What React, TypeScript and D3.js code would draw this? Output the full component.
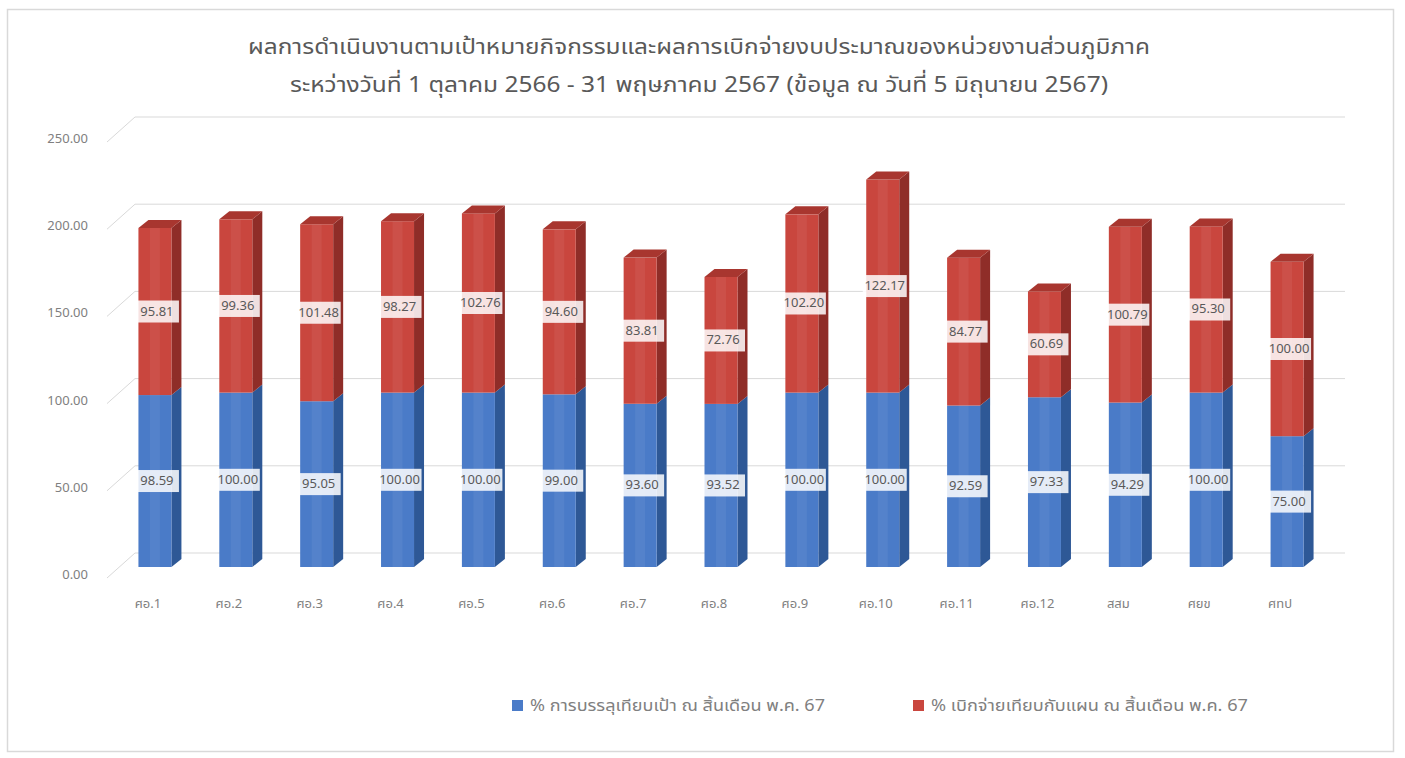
import React from "react";
import * as d3 from "d3";

const categories = ["ศอ.1","ศอ.2","ศอ.3","ศอ.4","ศอ.5","ศอ.6","ศอ.7","ศอ.8","ศอ.9","ศอ.10","ศอ.11","ศอ.12","สสม","ศยข","ศทป"];
const achieved = [98.59,100.00,95.05,100.00,100.00,99.00,93.60,93.52,100.00,100.00,92.59,97.33,94.29,100.00,75.00];
const disbursed = [95.81,99.36,101.48,98.27,102.76,94.60,83.81,72.76,102.20,122.17,84.77,60.69,100.79,95.30,100.00];
const yTicks = [0,50,100,150,200,250];
const titleLines = [
  "ผลการดำเนินงานตามเป้าหมายกิจกรรมและผลการเบิกจ่ายงบประมาณของหน่วยงานส่วนภูมิภาค",
  "ระหว่างวันที่ 1 ตุลาคม 2566 - 31 พฤษภาคม 2567 (ข้อมูล ณ วันที่ 5 มิถุนายน 2567)",
];
const legendLabels = [
  "% การบรรลุเทียบเป้า ณ สิ้นเดือน พ.ค. 67",
  "% เบิกจ่ายเทียบกับแผน ณ สิ้นเดือน พ.ค. 67",
];

const FONT = "Tahoma, 'Leelawadee UI', 'Noto Sans Thai', 'Noto Sans', 'DejaVu Sans', sans-serif";

export default function App() {
  const W = 1405, H = 758;
  const y = d3.scaleLinear().domain([0, 250]).range([567, 131]);
  const x = d3.scaleBand<string>().domain(categories).range([114.5, 1327.5]).padding(0);
  const bw = 33, dx = 10, dy = -8, back = 14;
  const gridX0 = 135, gridX1 = 1345;

  const colors = {
    blue: { front: "#4A7BC8", side: "#2E5896", top: "#3B69B0" },
    red: { front: "#C9463E", side: "#8F2D28", top: "#A8362F" },
  };

  const seg = (cx: number, v0: number, v1: number, c: any, key: string, drawTop: boolean) => {
    const xl = cx - bw / 2, xr = cx + bw / 2;
    const yt = y(v1), yb = y(v0);
    return (
      <g key={key}>
        <polygon points={`${xr},${yt} ${xr + dx},${yt + dy} ${xr + dx},${yb + dy} ${xr},${yb}`} fill={c.side} />
        <rect x={xl} y={yt} width={bw} height={yb - yt} fill={c.front} />
        <rect x={xl + bw * 0.35} y={yt} width={bw * 0.3} height={yb - yt} fill="#ffffff" opacity={0.06} />
        {drawTop && (
          <polygon points={`${xl},${yt} ${xl + dx},${yt + dy} ${xr + dx},${yt + dy} ${xr},${yt}`} fill={c.top} />
        )}
      </g>
    );
  };

  const label = (cx: number, cy: number, text: string, key: string) => (
    <g key={key}>
      <rect x={cx - 22} y={cy - 11} width={44} height={22} fill="#ffffff" opacity={0.85} />
      <text x={cx} y={cy} textAnchor="middle" dominantBaseline="central" fontSize={13} fill="#595959" fontFamily={FONT}>{text}</text>
    </g>
  );

  const titleWidths = [902, 818];

  return (
    <svg width={W} height={H} style={{ position: "absolute", left: 0, top: 0, background: "#fff" }}>
      <rect x={0} y={0} width={W} height={H} fill="#ffffff" />
      <rect x={7.5} y={9.5} width={1386} height={742} fill="none" stroke="#d9d9d9" strokeWidth={1.5} />
      {titleLines.map((t, i) => (
        <text key={t} x={699} y={54 + i * 38} textAnchor="middle" fontSize={22} fill="#595959" fontFamily={FONT}
          textLength={titleWidths[i]} lengthAdjust="spacingAndGlyphs">{t}</text>
      ))}
      {yTicks.map(v => (
        <g key={"g" + v}>
          <line x1={gridX0} x2={gridX1} y1={y(v) - back} y2={y(v) - back} stroke="#d9d9d9" strokeWidth={1} />
          <line x1={107} x2={gridX0} y1={y(v) + 11} y2={y(v) - back} stroke="#d9d9d9" strokeWidth={1} />
          <text x={88} y={y(v) + 8} textAnchor="end" dominantBaseline="central" fontSize={13} fill="#808080" fontFamily={FONT}>{v.toFixed(2)}</text>
        </g>
      ))}
      {categories.map((c, i) => {
        const cx = (x(c) as number) + x.bandwidth() / 2;
        const a = achieved[i], d = disbursed[i];
        return (
          <g key={c}>
            {seg(cx, 0, a, colors.blue, "b", false)}
            {seg(cx, a, a + d, colors.red, "r", true)}
          </g>
        );
      })}
      {categories.map((c, i) => {
        const cx = (x(c) as number) + x.bandwidth() / 2;
        const a = achieved[i], d = disbursed[i];
        return (
          <g key={"l" + c}>
            {label(cx + 2, y(a / 2), a.toFixed(2), "la")}
            {label(cx + 2, y(a + d / 2), d.toFixed(2), "ld")}
            <text x={cx - 7} y={604} textAnchor="middle" dominantBaseline="central" fontSize={13} fill="#808080" fontFamily={FONT}>{c}</text>
          </g>
        );
      })}
      <rect x={512} y={700} width={11} height={11} fill={colors.blue.front} />
      <text x={530} y={706} dominantBaseline="central" fontSize={16} fill="#808080" fontFamily={FONT}
        textLength={295} lengthAdjust="spacingAndGlyphs">{legendLabels[0]}</text>
      <rect x={913} y={700} width={11} height={11} fill={colors.red.front} />
      <text x={931} y={706} dominantBaseline="central" fontSize={16} fill="#808080" fontFamily={FONT}
        textLength={317} lengthAdjust="spacingAndGlyphs">{legendLabels[1]}</text>
    </svg>
  );
}
